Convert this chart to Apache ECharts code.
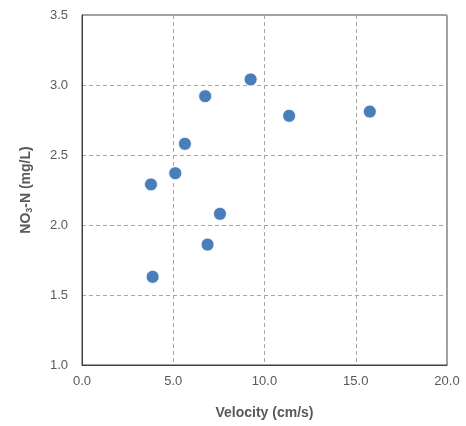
<!DOCTYPE html>
<html><head><meta charset="utf-8">
<script src="https://cdn.jsdelivr.net/npm/echarts@6/dist/echarts.min.js"></script>
<style>html,body{margin:0;padding:0;background:#fff}#c{width:466px;height:426px}</style>
</head><body><div id="c"></div>
<script>
const velocity = [9.24, 6.75, 5.64, 5.11, 3.78, 7.56, 6.88, 3.87, 11.35, 15.77];
const no3n = [3.04, 2.92, 2.58, 2.37, 2.29, 2.08, 1.86, 1.63, 2.78, 2.81];
const xTitle = 'Velocity (cm/s)';
const yTitle = '{a|NO}{s|3}{a|-N (mg/L)}';

const chart = echarts.init(document.getElementById('c'), null, {renderer: 'canvas'});
const gridLine = {show: true, lineStyle: {color: '#a6a6a6', type: [4, 3], width: 1}};
chart.setOption({
  animation: false,
  backgroundColor: '#fff',
  grid: {left: 82, right: 19, top: 15, bottom: 61, show: true, borderColor: '#404040', borderWidth: 1},
  xAxis: {
    type: 'value', min: 0, max: 20, interval: 5,
    name: xTitle, nameLocation: 'middle', nameGap: 41,
    nameTextStyle: {fontFamily: 'Liberation Sans', fontWeight: 'bold', fontSize: 14, color: '#595959'},
    axisLine: {show: true, lineStyle: {color: '#404040'}},
    axisTick: {show: false},
    splitLine: gridLine,
    axisLabel: {fontFamily: 'Liberation Sans', fontSize: 13, color: '#595959', margin: 10,
      formatter: v => v.toFixed(1)}
  },
  yAxis: {
    type: 'value', min: 1.0, max: 3.5, interval: 0.5,
    name: yTitle, nameLocation: 'middle', nameGap: 48, nameRotate: 90,
    nameTextStyle: {
      rich: {
        a: {fontFamily: 'Liberation Sans', fontWeight: 'bold', fontSize: 14, color: '#595959'},
        s: {fontFamily: 'Liberation Sans', fontWeight: 'bold', fontSize: 9, color: '#595959', verticalAlign: 'bottom', padding: [6, 0, 0, 0]}
      }
    },
    axisLine: {show: true, lineStyle: {color: '#404040'}},
    axisTick: {show: false},
    splitLine: gridLine,
    axisLabel: {fontFamily: 'Liberation Sans', fontSize: 13, color: '#595959', margin: 14,
      formatter: v => v.toFixed(1)}
  },
  series: [{
    type: 'scatter',
    symbolSize: 13,
    itemStyle: {color: '#4a7ebb', opacity: 1, borderColor: '#ffffff', borderWidth: 0.8},
    data: velocity.map((v, i) => [v, no3n[i]])
  }]
});
</script></body></html>
